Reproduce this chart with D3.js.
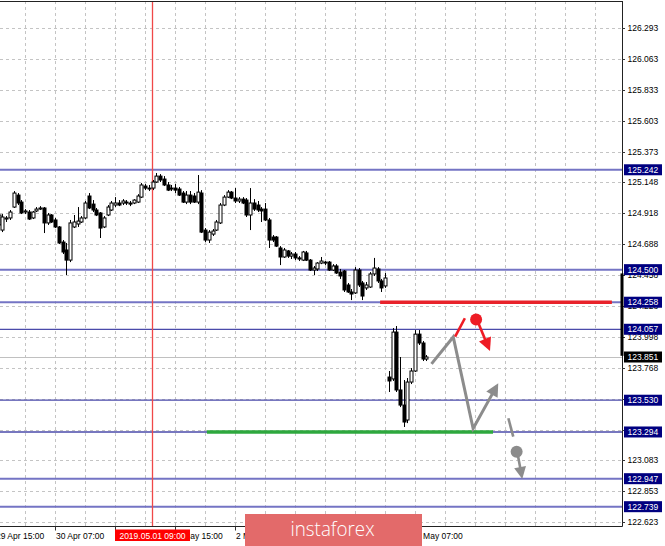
<!DOCTYPE html>
<html><head><meta charset="utf-8">
<script src="https://cdn.jsdelivr.net/npm/d3@7"></script>
<style>
html,body{margin:0;padding:0;background:#fff;}
svg{display:block;font-family:"Liberation Sans",Arial,sans-serif;}
</style></head><body>
<svg id="c" width="665" height="546"></svg>
<script>
// ---------- DATA ----------
// H1 bars, index relative to 30 Apr 07:00 (bar 0); first bar = 29 Apr 16:00
const firstBar = -15;
const opens = [124.832,124.794,124.876,124.884,124.965,125.054,125.002,124.928,124.928,124.884,124.936,124.950,124.958,124.847,124.906,
124.869,124.817,124.705,124.646,124.571,124.817,124.839,124.854,124.884,125.047,124.987,124.943,124.921,124.817,124.906,124.943,124.980,124.995,124.995,125.002,124.995,124.995,125.002,125.039,125.121,125.106,125.106,125.151,125.195,125.173,125.129,125.099,125.106,125.099,125.069,125.002,125.054,125.047,125.002,
125.069,124.794,124.720,124.764,124.794,124.847,124.980,125.039,125.076,125.032,125.010,125.024,125.017,124.906,124.995,124.980,124.950,124.950,124.869,124.742,124.742,124.661,124.594,124.639,124.601,124.616,124.587,124.571,124.624,124.571,124.497,124.505,124.549,124.556,124.556,124.497,124.527,124.482,124.490,124.386,124.334,124.327,124.497,124.401,124.364,124.371,124.468,124.505,124.416,124.379,
123.702,123.688,124.036,123.606,123.494,123.383,123.665,123.747,124.021,123.955,123.836];
const highs = [124.921,124.913,124.898,124.943,125.084,125.069,125.017,124.950,124.943,124.936,124.965,124.972,124.965,124.921,124.913,
124.884,124.824,124.720,124.698,124.869,124.906,124.965,124.898,125.010,125.069,125.017,124.958,124.928,124.898,124.980,125.010,125.039,125.017,125.024,125.017,125.010,125.024,125.061,125.144,125.136,125.129,125.166,125.218,125.210,125.195,125.151,125.129,125.136,125.114,125.084,125.084,125.084,125.069,125.203,
125.091,124.809,124.794,124.802,124.869,124.995,125.054,125.091,125.084,125.106,125.039,125.039,125.032,125.106,125.024,125.010,124.965,124.995,124.884,124.757,124.750,124.675,124.661,124.646,124.631,124.631,124.601,124.639,124.639,124.579,124.527,124.556,124.594,124.564,124.564,124.541,124.541,124.505,124.497,124.401,124.356,124.519,124.512,124.416,124.408,124.482,124.587,124.519,124.431,124.475,
123.747,124.066,124.081,123.851,123.680,123.695,123.769,124.051,124.051,123.970,123.866];
const lows = [124.817,124.779,124.854,124.869,124.958,124.980,124.913,124.913,124.869,124.876,124.928,124.943,124.772,124.832,124.847,
124.809,124.690,124.616,124.460,124.556,124.809,124.817,124.847,124.876,124.950,124.928,124.898,124.735,124.809,124.898,124.936,124.965,124.972,124.980,124.980,124.972,124.987,124.995,125.032,125.091,125.084,125.091,125.144,125.151,125.121,125.084,125.084,125.069,125.047,124.995,124.987,124.987,124.995,124.987,
124.772,124.705,124.698,124.750,124.787,124.839,124.972,125.032,125.024,124.995,124.995,124.987,124.891,124.794,124.936,124.928,124.854,124.861,124.661,124.705,124.668,124.534,124.587,124.587,124.579,124.571,124.564,124.564,124.564,124.490,124.460,124.490,124.541,124.534,124.490,124.490,124.468,124.431,124.334,124.327,124.274,124.319,124.371,124.274,124.349,124.364,124.453,124.401,124.334,124.364,
123.591,123.673,123.591,123.479,123.331,123.360,123.650,123.740,123.940,123.821,123.821];
const closes = [124.906,124.891,124.884,124.928,125.069,124.995,124.921,124.936,124.876,124.928,124.950,124.958,124.847,124.906,124.854,
124.817,124.698,124.631,124.571,124.847,124.854,124.861,124.884,124.995,124.958,124.943,124.906,124.809,124.884,124.965,124.995,124.995,124.980,125.010,124.995,124.987,125.017,125.047,125.129,125.106,125.099,125.151,125.195,125.166,125.129,125.091,125.106,125.091,125.054,125.002,125.054,125.002,125.002,125.076,
124.779,124.720,124.779,124.787,124.854,124.980,125.039,125.076,125.032,125.010,125.024,124.995,124.906,124.995,124.950,124.943,124.936,124.869,124.720,124.720,124.675,124.594,124.646,124.601,124.616,124.587,124.579,124.631,124.571,124.497,124.512,124.549,124.564,124.549,124.497,124.527,124.475,124.453,124.349,124.334,124.319,124.497,124.386,124.304,124.386,124.468,124.512,124.416,124.364,124.438,
123.673,124.036,123.606,123.494,123.368,123.665,123.747,124.021,123.955,123.836,123.851];

const timeTickBars = [-16, 0, 16, 32, 48, 64, 80, 96];
const timeTickLabels = ["29 Apr 15:00","30 Apr 07:00","30 Apr 23:00","1 May 15:00","2 May 07:00","2 May 23:00","3 May 15:00","6 May 07:00"];
const hiddenTimeLabels = ["30 Apr 23:00","2 May 23:00","3 May 15:00"]; // fully covered in the reference
const gridBarStep = 8;

const priceTicks = [126.293,126.063,125.833,125.603,125.373,125.148,124.918,124.688,124.458,124.228,123.998,123.768,123.538,123.308,123.083,122.853,122.623];
const hiddenPriceLabels = [123.538,123.308]; // fully covered by level labels
const levels = [125.242,124.500,124.258,124.057,123.530,123.294,122.947,122.739];
const currentPrice = 123.851;
const markerBar = 26, markerLabel = "2019.05.01 09:00";

// annotation lines: [barIndex, price]
const resistanceLine = [[86.7,124.258],[148.5,124.258]];
const supportLine = [[40.5,123.294],[116.8,123.294]];
const greyPath = [[100.4,123.80],[106.2,124.0],[111.5,123.32],[118.2,123.656]];
const redStroke = [[106.7,124.002],[109.3,124.139]];
const redDot = [112.3,124.130];
const redArrow = [[113.0,124.096],[116.0,123.895]];
const greyStroke = [[120.9,123.396],[122.2,123.259]];
const greyDot = [123.1,123.147];
const greyArrow = [[123.5,123.112],[124.6,122.945]];

// ---------- CHART ----------
const svg = d3.select("#c");
const plotR = 622, plotT = 1, plotB = 526.5;
const x = d3.scaleLinear().domain([0, 96]).range([55, 415]);
const y = d3.scaleLinear().domain([126.293, 122.623]).range([28.3, 522.3]);

const bars = opens.map((o,k)=>({i:firstBar+k,o,h:highs[k],l:lows[k],c:closes[k]}));

svg.append("defs").append("clipPath").attr("id","plot")
  .append("rect").attr("x",0).attr("y",plotT).attr("width",plotR).attr("height",plotB-plotT);
const g = svg.append("g").attr("clip-path","url(#plot)");

// grid
const gridCol = "#c4c4c4";
priceTicks.forEach(p=>{
  const yy = Math.round(y(p))+0.5;
  g.append("line").attr("x1",0).attr("x2",plotR).attr("y1",yy).attr("y2",yy)
    .attr("stroke",gridCol).attr("stroke-dasharray","3,3");
});
for(let i=-8; x(i)<plotR; i+=gridBarStep){
  const xx = Math.round(x(i))+0.5;
  g.append("line").attr("x1",xx).attr("x2",xx).attr("y1",plotT).attr("y2",plotB)
    .attr("stroke",gridCol).attr("stroke-dasharray","3,3");
}

// level lines
const thinLevels = [124.057,123.530,123.294];
levels.forEach(p=>{
  const thin = thinLevels.includes(p);
  g.append("line").attr("x1",0).attr("x2",plotR).attr("y1",y(p)).attr("y2",y(p))
    .attr("stroke", thin? "#4a4aaa":"#7474c4").attr("stroke-width", thin?1.3:2);
});
// current price line
g.append("line").attr("x1",0).attr("x2",plotR).attr("y1",Math.round(y(currentPrice))+0.5).attr("y2",Math.round(y(currentPrice))+0.5)
  .attr("stroke","#c0c0c0").attr("stroke-width",1);

// vertical marker
g.append("line").attr("x1",x(markerBar)).attr("x2",x(markerBar)).attr("y1",plotT).attr("y2",plotB)
  .attr("stroke","#f04848").attr("stroke-width",1.3);

// candles
const cg = g.append("g");
bars.forEach(b=>{
  const cx = Math.round(x(b.i))+0.5;
  cg.append("line").attr("x1",cx).attr("x2",cx).attr("y1",y(b.h)).attr("y2",y(b.l)).attr("stroke","#000").attr("stroke-width",1);
  const top = y(Math.max(b.o,b.c)), bot = y(Math.min(b.o,b.c));
  const up = b.c >= b.o;
  cg.append("rect").attr("x",cx-1.5).attr("y",top).attr("width",3).attr("height",Math.max(0.8,bot-top))
    .attr("fill", up? "#fff":"#000").attr("stroke","#000").attr("stroke-width",1);
});

// support / resistance
const line = d3.line().x(d=>x(d[0])).y(d=>y(d[1]));
g.append("path").attr("d",line(resistanceLine)).attr("stroke","#e8232b").attr("stroke-width",3.6).attr("fill","none");
g.append("path").attr("d",line(supportLine)).attr("stroke","#2ea83e").attr("stroke-width",3.4).attr("fill","none");

function arrowHead(p0,p1,color,len,half){
  const a0=[x(p0[0]),y(p0[1])], a1=[x(p1[0]),y(p1[1])];
  const dx=a1[0]-a0[0], dy=a1[1]-a0[1], L=Math.hypot(dx,dy), ux=dx/L, uy=dy/L;
  const bx=a1[0]-ux*len, by=a1[1]-uy*len;
  g.append("path").attr("d",`M${a1[0]},${a1[1]}L${bx-uy*half},${by+ux*half}L${bx+uy*half},${by-ux*half}Z`).attr("fill",color);
  return [bx+ux*2,by+uy*2];
}
const grey = "#8c8c8c";
const gEnd = arrowHead(greyPath[greyPath.length-2],greyPath[greyPath.length-1],grey,13,6.5);
g.append("path").attr("d", d3.line()(greyPath.slice(0,-1).map(d=>[x(d[0]),y(d[1])]).concat([gEnd])))
  .attr("stroke",grey).attr("stroke-width",3).attr("fill","none").attr("stroke-linejoin","miter");
const red = "#ee1c25";
g.append("path").attr("d",line(redStroke)).attr("stroke",red).attr("stroke-width",2.6).attr("fill","none");
g.append("circle").attr("cx",x(redDot[0])).attr("cy",y(redDot[1])).attr("r",6).attr("fill",red);
const rEnd = arrowHead(redArrow[0],redArrow[1],red,13,6.5);
g.append("path").attr("d",d3.line()([[x(redArrow[0][0]),y(redArrow[0][1])],rEnd])).attr("stroke",red).attr("stroke-width",2.6).attr("fill","none");
g.append("path").attr("d",line(greyStroke)).attr("stroke",grey).attr("stroke-width",2.6).attr("fill","none");
g.append("circle").attr("cx",x(greyDot[0])).attr("cy",y(greyDot[1])).attr("r",6).attr("fill",grey);
const gEnd2 = arrowHead(greyArrow[0],greyArrow[1],grey,12,6);
g.append("path").attr("d",d3.line()([[x(greyArrow[0][0]),y(greyArrow[0][1])],gEnd2])).attr("stroke",grey).attr("stroke-width",2.6).attr("fill","none");

// borders
svg.append("line").attr("x1",0).attr("x2",plotR+0.5).attr("y1",plotT+0.5).attr("y2",plotT+0.5).attr("stroke","#222");
svg.append("line").attr("x1",plotR+0.5).attr("x2",plotR+0.5).attr("y1",plotT).attr("y2",plotB).attr("stroke","#222");
svg.append("line").attr("x1",0).attr("x2",plotR+0.5).attr("y1",plotB).attr("y2",plotB).attr("stroke","#222");

// price axis
const fs = 8.5;
priceTicks.forEach(p=>{
  const yy = y(p);
  svg.append("line").attr("x1",plotR).attr("x2",plotR+3).attr("y1",Math.round(yy)+0.5).attr("y2",Math.round(yy)+0.5).attr("stroke","#333");
  if(!hiddenPriceLabels.includes(p))
    svg.append("text").attr("x",627.5).attr("y",yy).attr("dy","0.35em").attr("font-size",fs).attr("fill","#000").text(p.toFixed(3));
});
svg.append("rect").attr("x",620.5).attr("y",y(124.472)).attr("width",3).attr("height",y(123.860)-y(124.472)).attr("fill","#000");
levels.forEach(p=>{
  const yy=y(p);
  svg.append("rect").attr("x",624).attr("y",yy-5.5).attr("width",38).attr("height",11).attr("fill","#000080");
  svg.append("text").attr("x",627.5).attr("y",yy).attr("dy","0.35em").attr("font-size",fs).attr("fill","#fff").text(p.toFixed(3));
});
{
  const yy=y(currentPrice);
  svg.append("rect").attr("x",624).attr("y",yy-5.5).attr("width",38).attr("height",11).attr("fill","#000");
  svg.append("text").attr("x",627.5).attr("y",yy).attr("dy","0.35em").attr("font-size",fs).attr("fill","#fff").text(currentPrice.toFixed(3));
}

// time axis
timeTickBars.forEach((b,k)=>{
  const xx = Math.round(x(b))+0.5;
  svg.append("line").attr("x1",xx).attr("x2",xx).attr("y1",plotB).attr("y2",plotB+4).attr("stroke","#333");
  if(!hiddenTimeLabels.includes(timeTickLabels[k]))
    svg.append("text").attr("x",xx+0.5).attr("y",538.5).attr("font-size",fs).attr("fill","#000").text(timeTickLabels[k]);
});
{
  const xx = x(markerBar);
  svg.append("rect").attr("x",xx-37.5).attr("y",529.5).attr("width",75).attr("height",11.5).attr("fill","#ff0000");
  svg.append("text").attr("x",xx).attr("y",538.5).attr("text-anchor","middle").attr("font-size",fs).attr("fill","#fff").text(markerLabel);
}

// logo
svg.append("rect").attr("x",245).attr("y",514).attr("width",177).attr("height",32).attr("fill","#e36a6a");
svg.append("text").attr("x",332.5).attr("y",536).attr("text-anchor","middle").attr("font-family","'Open Sans',sans-serif")
  .attr("font-weight",300).attr("font-size",20).attr("fill","#fff").attr("textLength",84).attr("lengthAdjust","spacingAndGlyphs").text("instaforex");
</script>
</body></html>
